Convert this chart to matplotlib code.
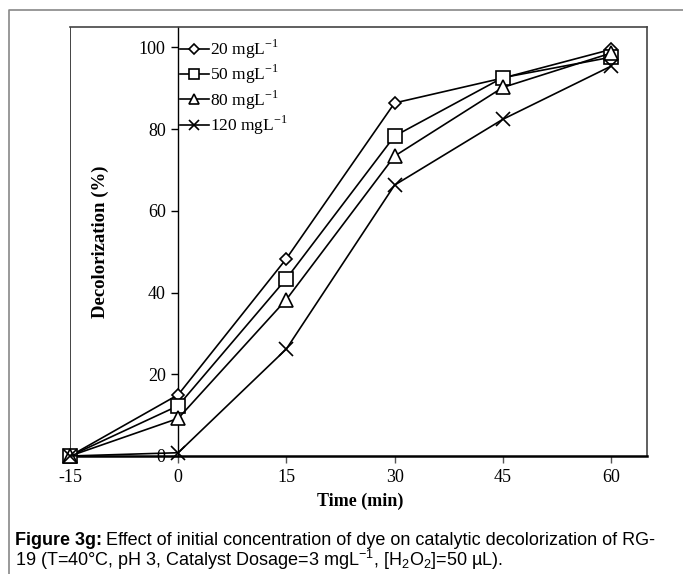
import numpy as np
import matplotlib
matplotlib.use('Agg')
import matplotlib.pyplot as plt
from matplotlib.lines import Line2D

plt.rcParams['font.family'] = ['Liberation Serif', 'DejaVu Serif']
plt.rcParams['mathtext.fontset'] = 'custom'
plt.rcParams['mathtext.rm'] = 'Liberation Serif'
plt.rcParams['mathtext.sf'] = 'Liberation Sans'
plt.rcParams['axes.unicode_minus'] = False

# decolorization (%) vs time for each initial dye concentration
time_min = [-15, 0, 15, 30, 45, 60]
dec_20 = [0, 15.0, 48.3, 86.4, 92.5, 99.5]
dec_50 = [0, 12.3, 43.4, 78.3, 92.6, 97.6]
dec_80 = [0, 9.2, 38.3, 73.4, 90.2, 98.6]
dec_120 = [0, 0.8, 26.2, 66.3, 82.4, 95.4]
labels = [r'20 mgL$^{-1}$', r'50 mgL$^{-1}$', r'80 mgL$^{-1}$', r'120 mgL$^{-1}$']
xticks = [-15, 0, 15, 30, 45, 60]
yticks = [0, 20, 40, 60, 80, 100]

fig = plt.figure(figsize=(6.83, 5.74), dpi=100)
W, H = 683, 574
ax = fig.add_axes([70 / W, 1 - 456 / H, 577 / W, 429 / H])

series = [dec_20, dec_50, dec_80, dec_120]
markers = [('D', 6.5), ('s', 10), ('^', 10), ('x', 10)]
for vals, (m, ms), lab in zip(series, markers, labels):
    ax.plot(time_min, vals, color='black', lw=1.2, marker=m, ms=ms,
            mfc='white', mec='black', mew=1.2, label=lab, clip_on=False, zorder=3)

ax.set_xlim(-15, 65)
ax.set_ylim(0, 105)
ax.set_xticks(xticks)
ax.set_yticks(yticks)

# y axis crosses at time zero, outer frame kept at the edges
ax.spines['left'].set_position(('data', 0))
ax.spines['left'].set_linewidth(1.0)
ax.spines['bottom'].set_linewidth(1.8)
ax.spines['top'].set_color('#444444')
ax.spines['right'].set_color('#444444')
ax.spines['right'].set_linewidth(1.2)
ax.spines['top'].set_linewidth(1.2)
ax.axvline(-15, color='#222222', lw=1.2, zorder=1)

ax.tick_params(axis='both', direction='out', length=5, width=1, labelsize=13, pad=4)
ax.tick_params(axis='x', color='#555555')

ax.set_xlabel('Time (min)', fontsize=13, fontweight='bold')
ax.xaxis.set_label_coords(0.503, -0.085)
ax.set_ylabel('Decolorization (%)', fontsize=13.5, fontweight='bold')
ax.yaxis.set_label_coords(0.068, 0.5)

leg = ax.legend(loc='upper left', bbox_to_anchor=(0.19, 0.975), frameon=False,
                fontsize=12.5, handlelength=1.7, handletextpad=0.05,
                labelspacing=0.12, borderaxespad=0, borderpad=0, markerscale=0.75)

# panel border
fig.add_artist(Line2D([9 / W, 9 / W, 1], [0, 1 - 10 / H, 1 - 10 / H],
                      color='#888888', lw=1.2))

# caption
renderer = fig.canvas.get_renderer()
t1 = fig.text(15 / W, 1 - 545 / H, 'Figure 3g:', fontsize=13, fontweight='bold',
              family='Liberation Sans', va='baseline')
bb = t1.get_window_extent(renderer)
fig.text(bb.x1 / W + 4 / W, 1 - 545 / H,
         'Effect of initial concentration of dye on catalytic decolorization of RG-',
         fontsize=13, family='Liberation Sans', va='baseline')
fig.text(15 / W, 1 - 566 / H,
         r'19 (T=40°C, pH 3, Catalyst Dosage=3 mgL$^{\mathsf{-1}}$, '
         r'[H$_{\mathsf{2}}$O$_{\mathsf{2}}$]=50 µL).',
         fontsize=13, family='Liberation Sans', va='baseline')

fig.savefig('out.png', dpi=100)
